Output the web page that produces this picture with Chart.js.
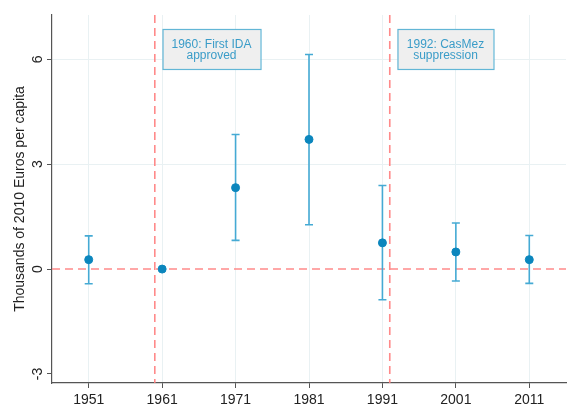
<!DOCTYPE html>
<html>
<head>
<meta charset="utf-8">
<script src="https://cdn.jsdelivr.net/npm/chart.js@4.4.0/dist/chart.umd.min.js"></script>
<style>
  body { margin: 0; background: #fff; }
  canvas { display: block; }
</style>
</head>
<body>
<canvas id="chart" width="574" height="415"></canvas>
<script>
// Datos
const years = [1951, 1961, 1971, 1981, 1991, 2001, 2011];
const estimates = [0.27, 0, 2.33, 3.71, 0.75, 0.49, 0.27];
const ciLower = [-0.42, null, 0.82, 1.27, -0.88, -0.34, -0.41];
const ciUpper = [0.95, null, 3.85, 6.14, 2.39, 1.32, 0.96];
const yTicks = [-3, 0, 3, 6];
const eventYears = [1960, 1992];
const eventLabels = [['1960: First IDA', 'approved'], ['1992: CasMez', 'suppression']];

const FONT = "'Liberation Sans', Arial, sans-serif";
const pointColor = '#0b86bd';
const barColor = '#45aad4';
const refColor = 'rgba(255, 125, 125, 0.9)';
const gridColor = '#e9f1f3';
const axisColor = '#555555';

// Líneas de referencia, intervalos, etiquetas del eje y y cajas de texto
const overlay = {
    id: 'overlay',
    beforeDatasetsDraw(chart) {
        const { ctx, chartArea, scales: { x, y } } = chart;
        ctx.save();
        ctx.strokeStyle = refColor;
        ctx.lineWidth = 1.6;
        ctx.setLineDash([8, 5]);
        ctx.beginPath();
        const y0 = y.getPixelForValue(0);
        ctx.moveTo(chartArea.left, y0);
        ctx.lineTo(chartArea.right, y0);
        eventYears.forEach(ev => {
            const px = x.getPixelForValue(ev);
            ctx.moveTo(px, chartArea.top);
            ctx.lineTo(px, chartArea.bottom);
        });
        ctx.stroke();
        ctx.setLineDash([]);

        // intervalos de confianza
        ctx.strokeStyle = barColor;
        ctx.lineWidth = 1.6;
        years.forEach((yr, i) => {
            if (ciLower[i] === null) return;
            const px = x.getPixelForValue(yr);
            const lo = y.getPixelForValue(ciLower[i]);
            const hi = y.getPixelForValue(ciUpper[i]);
            ctx.beginPath();
            ctx.moveTo(px, lo);
            ctx.lineTo(px, hi);
            ctx.moveTo(px - 4, lo);
            ctx.lineTo(px + 4, lo);
            ctx.moveTo(px - 4, hi);
            ctx.lineTo(px + 4, hi);
            ctx.stroke();
        });
        ctx.restore();
    },
    afterDraw(chart) {
        const { ctx, scales: { x, y } } = chart;
        ctx.save();
        // etiquetas del eje y giradas
        ctx.fillStyle = '#222';
        ctx.font = '14px ' + FONT;
        ctx.textAlign = 'center';
        ctx.textBaseline = 'middle';
        yTicks.forEach(t => {
            const py = y.getPixelForValue(t);
            ctx.save();
            ctx.translate(38, py);
            ctx.rotate(-Math.PI / 2);
            ctx.fillText(String(t), 0, 0);
            ctx.restore();
        });

        // cajas de anotación
        eventYears.forEach((ev, i) => {
            const left = x.getPixelForValue(ev + 1.05);
            const top = y.getPixelForValue(6.87);
            const w = i === 0 ? 98 : 96;
            const h = 40;
            ctx.fillStyle = '#efefef';
            ctx.fillRect(left, top, w, h);
            ctx.strokeStyle = '#62b6d6';
            ctx.lineWidth = 1.2;
            ctx.strokeRect(left + 0.5, top + 0.5, w, h);
            ctx.fillStyle = '#3a9cc8';
            ctx.font = '12px ' + FONT;
            ctx.fillText(eventLabels[i][0], left + w / 2, top + 15.5);
            ctx.fillText(eventLabels[i][1], left + w / 2, top + 26.5);
        });
        ctx.restore();
    }
};

new Chart(document.getElementById('chart'), {
    type: 'scatter',
    data: {
        datasets: [{
            data: years.map((yr, i) => ({ x: yr, y: estimates[i] })),
            backgroundColor: pointColor,
            borderColor: pointColor,
            pointRadius: 4,
            pointHoverRadius: 4
        }]
    },
    options: {
        responsive: false,
        animation: false,
        layout: { padding: { top: 15, right: 8, left: 0, bottom: 0 } },
        plugins: {
            legend: { display: false },
            tooltip: { enabled: false }
        },
        scales: {
            x: {
                type: 'linear',
                min: 1946,
                max: 2016,
                afterBuildTicks: scale => { scale.ticks = years.map(v => ({ value: v })); },
                afterFit: scale => { scale.height = 32; },
                grid: { color: gridColor, tickColor: axisColor, tickLength: 5 },
                border: { color: axisColor, width: 1.2 },
                ticks: {
                    color: '#222',
                    font: { family: FONT, size: 14 },
                    padding: 4,
                    maxRotation: 0,
                    callback: v => String(v)
                }
            },
            y: {
                min: -3.26,
                max: 7.27,
                afterBuildTicks: scale => { scale.ticks = yTicks.map(v => ({ value: v })); },
                afterFit: scale => { scale.width = 52; },
                grid: {
                    color: c => (c.tick && (c.tick.value === -3 || c.tick.value === 0)) ? 'rgba(0,0,0,0)' : gridColor,
                    tickColor: axisColor,
                    tickLength: 5
                },
                border: { color: axisColor, width: 1.2 },
                ticks: { color: 'rgba(0,0,0,0)', font: { family: FONT, size: 14 } },
                title: {
                    display: true,
                    text: 'Thousands of 2010 Euros per capita',
                    color: '#222',
                    font: { family: FONT, size: 14 },
                    padding: { top: 11.5, bottom: 0 }
                }
            }
        }
    },
    plugins: [overlay]
});
</script>
</body>
</html>
